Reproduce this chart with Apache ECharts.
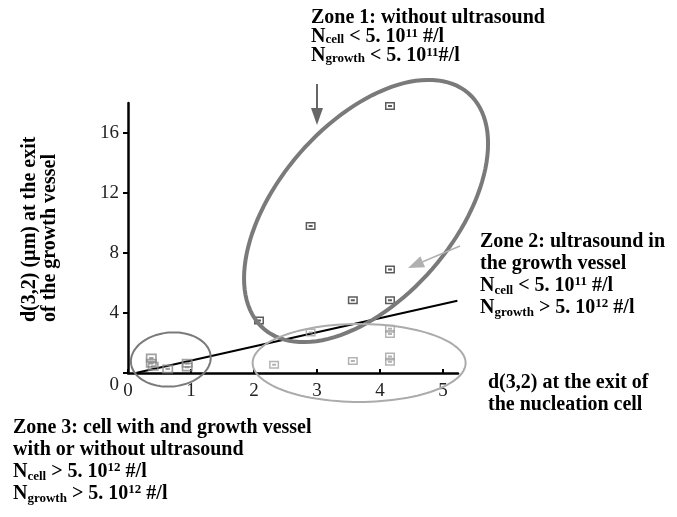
<!DOCTYPE html>
<html><head><meta charset="utf-8">
<script src="https://cdn.jsdelivr.net/npm/echarts@6/dist/echarts.min.js"></script>
<style>html,body{margin:0;padding:0;background:#fff}#c{width:677px;height:517px}</style>
</head><body><div id="c"></div>
<script>
// ---- data ----
const xTicks = [0, 1, 2, 3, 4, 5];
const yTicks = [0, 4, 8, 12, 16];
const zone1X = [4.16, 2.90, 4.16, 3.57, 4.16, 2.08];
const zone1Y = [17.8, 9.8, 6.9, 4.85, 4.85, 3.5];
const zone2X = [2.90, 4.16, 4.16, 2.32, 3.57, 4.16, 4.16];
const zone2Y = [2.7, 2.95, 2.6, 0.55, 0.8, 1.1, 0.75];
const zone3X = [0.37, 0.37, 0.40, 0.63, 0.94, 0.94];
const zone3Y = [1.0, 0.65, 0.45, 0.27, 0.65, 0.4];
const trendX = [0.14, 5.23];
const trendY = [0.02, 4.82];

const SERIF = '"Liberation Serif","Times New Roman",serif';
const pairs = (xs, ys) => xs.map((x, i) => [x, ys[i]]);
const MARK = 'path://M0,0L10,0L10,8L0,8Z M1.5,1.5L1.5,6.5L8.5,6.5L8.5,1.5Z M3,3L7,3L7,5L3,5Z';

const chart = echarts.init(document.getElementById('c'), null, {renderer: 'canvas'});

const option = {
  animation: false,
  backgroundColor: '#fff',
  grid: {left: 128, top: 103, width: 330, height: 270, containLabel: false},
  xAxis: {
    type: 'value', min: 0, max: 5.24, interval: 1,
    axisLine: {lineStyle: {color: '#000', width: 2.5}},
    axisTick: {inside: true, length: 4, lineStyle: {color: '#000', width: 2}, customValues: xTicks},
    axisLabel: {customValues: xTicks, margin: 9, fontFamily: SERIF, fontSize: 19, color: '#222'},
    splitLine: {show: false}
  },
  yAxis: {
    type: 'value', min: 0, max: 18, interval: 4,
    axisLine: {show: true, lineStyle: {color: '#000', width: 2.5}},
    axisTick: {show: true, length: 5, lineStyle: {color: '#000', width: 2}, customValues: yTicks},
    axisLabel: {
      customValues: yTicks, margin: 9, fontFamily: SERIF, fontSize: 19, color: '#222',
      formatter: v => v === 0 ? '{z|0}' : String(v),
      rich: {z: {fontFamily: SERIF, fontSize: 19, color: '#222', padding: [24, 0, 0, 0]}}
    },
    splitLine: {show: false}
  },
  series: [
    {type: 'line', data: pairs(trendX, trendY), symbol: 'none', lineStyle: {color: '#000', width: 2}, z: 2},
    {type: 'scatter', data: pairs(zone1X, zone1Y), symbol: MARK, symbolSize: [10, 8], itemStyle: {color: '#333'}, z: 3},
    {type: 'scatter', data: pairs(zone2X, zone2Y), symbol: MARK, symbolSize: [10, 8], itemStyle: {color: '#a0a0a0'}, z: 3},
    {type: 'scatter', data: pairs(zone3X, zone3Y), symbol: MARK, symbolSize: [11, 9], itemStyle: {color: '#888'}, z: 3}
  ]
};
chart.setOption(option);

// ---- annotation shapes (anchored to data coordinates) ----
const ellipses = [
  {c: [3.78, 10.8], a: 156, b: 88, deg: 49, color: '#7a7a7a', w: 4},
  {c: [3.67, 0.67], a: 106.5, b: 39, deg: 0, color: '#ababab', w: 2},
  {c: [0.68, 0.9], a: 40, b: 27, deg: 5, color: '#7a7a7a', w: 2}
];
function ellipsePts(e) {
  const [cx, cy] = chart.convertToPixel({gridIndex: 0}, e.c);
  const th = e.deg * Math.PI / 180, pts = [];
  for (let i = 0; i < 120; i++) {
    const t = i / 120 * 2 * Math.PI;
    const u = e.a * Math.cos(t), v = e.b * Math.sin(t);
    pts.push([cx + u * Math.cos(th) - v * Math.sin(th), cy - (u * Math.sin(th) + v * Math.cos(th))]);
  }
  return pts;
}
function arrow(x1, y1, x2, y2, color, lw, hl, hw) {
  const dx = x2 - x1, dy = y2 - y1, L = Math.hypot(dx, dy), ux = dx / L, uy = dy / L;
  const bx = x2 - ux * hl, by = y2 - uy * hl;
  return [
    {type: 'line', shape: {x1, y1, x2: bx, y2: by}, style: {stroke: color, lineWidth: lw}, z: 10},
    {type: 'polygon', shape: {points: [[x2, y2], [bx - uy * hw / 2, by + ux * hw / 2], [bx + uy * hw / 2, by - ux * hw / 2]]}, style: {fill: color}, z: 10}
  ];
}
const base = (c, s) => ({fontFamily: SERIF, fontWeight: 'bold', fontSize: s || 20, color: c});
function zoneRich(cMain, cN, lh) {
  return {
    t: Object.assign(base(cMain), {lineHeight: lh}),
    n: Object.assign(base(cN), {lineHeight: lh}),
    sub: Object.assign(base(cN, 13), {lineHeight: 9, verticalAlign: 'bottom'}),
    sup: Object.assign(base(cN, 13), {lineHeight: 9, verticalAlign: 'top'})
  };
}
function textEl(x, y, text, rich, rot) {
  return {type: 'text', x, y, rotation: rot || 0, z: 20,
    style: {text, rich, align: 'left', verticalAlign: 'top'}};
}

const graphics = [];
ellipses.forEach(e => graphics.push({type: 'polygon', shape: {points: ellipsePts(e)},
  style: {fill: 'none', stroke: e.color, lineWidth: e.w}, z: 9}));
graphics.push(...arrow(317, 84, 317, 125, '#666', 2, 17, 12));
graphics.push(...arrow(460, 246, 408, 268, '#b0b0b0', 1.5, 16, 12));

graphics.push(textEl(311, 8,
  '{t|Zone 1: without ultrasound}\n{n|N}{sub|cell}{n| < 5. 10}{sup|11}{n| #/l}\n{n|N}{sub|growth}{n| < 5. 10}{sup|11}{n|#/l}',
  zoneRich('#6e6e6e', '#3c3c3c', 19)));
graphics.push(textEl(480, 231,
  '{t|Zone 2: ultrasound in}\n{t|the growth vessel}\n{n|N}{sub|cell}{n| < 5. 10}{sup|11}{n| #/l}\n{n|N}{sub|growth}{n| > 5. 10}{sup|12}{n| #/l}',
  zoneRich('#b0b0b0', '#b0b0b0', 22)));
graphics.push(textEl(13, 417,
  '{t|Zone 3: cell with and growth vessel}\n{t|with or without ultrasound}\n{n|N}{sub|cell}{n| > 5. 10}{sup|12}{n| #/l}\n{n|N}{sub|growth}{n| > 5. 10}{sup|12}{n| #/l}',
  zoneRich('#7c7c7c', '#666666', 22)));
graphics.push(textEl(488, 372,
  '{t|d(3,2) at the exit of}\n{t|the nucleation cell}', zoneRich('#111', '#111', 22)));
graphics.push({type: 'text', x: 20, y: 322, rotation: Math.PI / 2, z: 20,
  style: {text: '{t|d(3,2) (µm) at the exit}\n{t|of the growth vessel}', rich: zoneRich('#111', '#111', 20), align: 'left', verticalAlign: 'top'}});

chart.setOption({graphic: graphics});
</script></body></html>
